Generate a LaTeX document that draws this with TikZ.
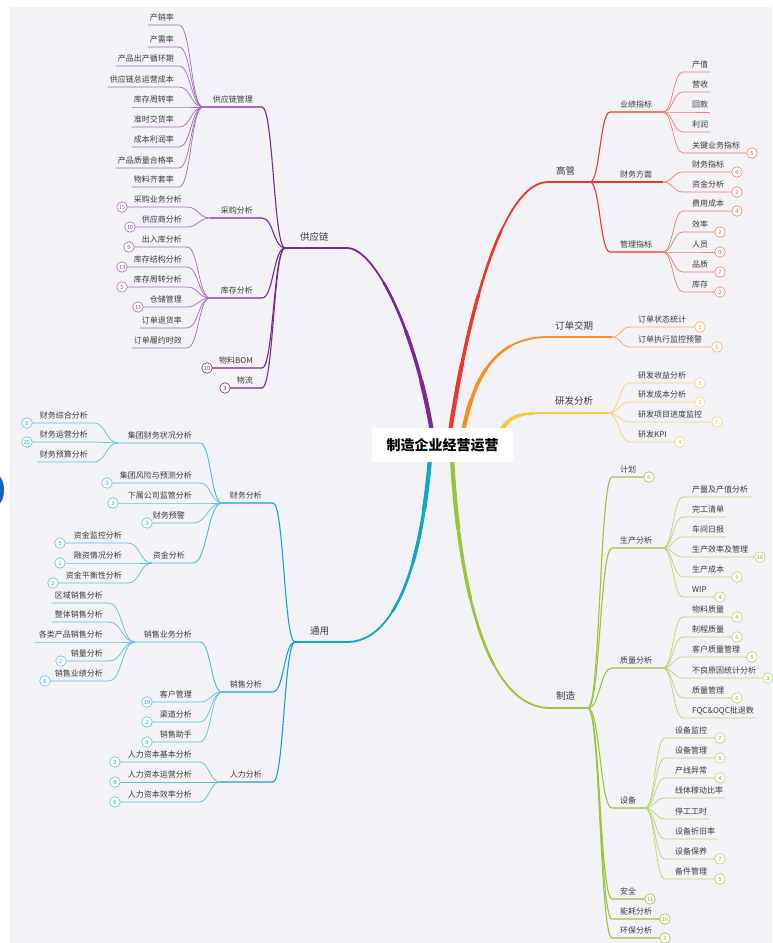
\documentclass[tikz,border=0pt]{standalone}
\usepackage{fontspec}
\setmainfont{Noto Sans CJK SC}
\usetikzlibrary{calc}
\definecolor{bgc}{HTML}{F3F2F7}
\definecolor{txt}{HTML}{3C3C3C}
\definecolor{pM}{HTML}{7A2A8E}
\definecolor{pL}{HTML}{A56DB8}
\definecolor{rM}{HTML}{E8392C}
\definecolor{rL}{HTML}{EE7C74}
\definecolor{oM}{HTML}{F29224}
\definecolor{oL}{HTML}{F4B267}
\definecolor{yM}{HTML}{F6C640}
\definecolor{yL}{HTML}{F5D27A}
\definecolor{gM}{HTML}{9DC33A}
\definecolor{gL}{HTML}{B9D46F}
\definecolor{cM}{HTML}{14A6C6}
\definecolor{cL}{HTML}{5CC3D8}
\definecolor{edgeblue}{HTML}{1565C0}

\newcommand\setJ[3]{\coordinate (#1) at (#2,#3);\def\jn{#1}\def\jx{#2}\def\jy{#3}}
\def\extd{4}
% left item: name style y xl(badge/ul left, empty=text) xr(text right) text badge
\newcommand\leafL[7]{%
  \node[lf,anchor=base east] (#1) at (#5,#3-4.5) {#6};
  \coordinate (#1r) at (#5+\extd,#3);
  \ifx\relax#4\relax\coordinate (#1l) at (#1.west |- #1r);\else\coordinate (#1l) at (#4,#3);\fi
  \draw[#2] (#1l) -- (#1r) .. controls +({(\jx-#5-\extd)/2},0) and +({(#5+\extd-\jx)/2},0) .. (\jn);
  \ifx\relax#7\relax\else\node[#2,bdg] (#1b) at (#1l) {#7};\fi}
% right item: name style y xl(ul left) xr(ul right/badge, empty=text) text badge
\newcommand\leafR[7]{%
  \coordinate (#1l) at (#4,#3);
  \node[lf,anchor=base west] (#1) at (#4+\extd,#3-4.5) {#6};
  \ifx\relax#5\relax\coordinate (#1r) at (#1.east |- #1l);\else\coordinate (#1r) at (#5,#3);\fi
  \draw[#2] (\jn) .. controls +({(#4-\jx)/2},0) and +({(\jx-#4)/2},0) .. (#1l) -- (#1r);
  \ifx\relax#7\relax\else\node[#2,bdg] (#1b) at (#1r) {#7};\fi}
\newcommand\taper[5]{%
  \draw[#1,line width=2.6pt,dash pattern=on #3pt off 2000pt] #2;
  \draw[#1,line width=3.4pt,dash pattern=on #4pt off 2000pt] #2;
  \draw[#1,line width=4.2pt,dash pattern=on #5pt off 2000pt] #2;}

\begin{document}
\begin{tikzpicture}[x=1pt,y=-1pt,
  lf/.style={font=\fontsize{8}{9}\selectfont,text=txt,inner xsep=2pt,inner ysep=1pt},
  lone/.style={font=\fontsize{9.5}{11}\selectfont,text=txt,inner sep=1pt},
  bdg/.style={circle,fill=white,inner sep=0pt,minimum size=10.5pt,font=\fontsize{5.8}{6}\selectfont,line width=0.6pt},
  mP/.style={draw=pM,text=pM,line width=1.1pt},
  lP/.style={draw=pL,text=pM!80!white,line width=0.7pt},
  mR/.style={draw=rM,text=rM,line width=1.1pt},
  lR/.style={draw=rL,text=rM!85!white,line width=0.7pt},
  lO/.style={draw=oL,text=oM,line width=0.8pt},
  lY/.style={draw=yL,text=yM!90!black,line width=0.8pt},
  mG/.style={draw=gM,text=gM!90!black,line width=1.1pt},
  lG/.style={draw=gL,text=gM!90!black,line width=0.7pt},
  mC/.style={draw=cM,text=cM,line width=1.1pt},
  mCC/.style={draw=cM!75!white,text=cM,line width=0.9pt},
  lC/.style={draw=cL,text=cM,line width=0.7pt},
  rootbox/.style={fill=white,rounded corners=3pt,minimum width=141pt,minimum height=34pt,
     font=\fontsize{14}{16}\selectfont\bfseries,text=black}
]
\useasboundingbox (0,0) rectangle (772,943);
\fill[white] (0,0) rectangle (772,943);
\fill[bgc] (10,7) rectangle (772,943);
\fill[edgeblue] (-2,490) ellipse (6 and 14);

% ---------- main branches ----------
\setJ{jsc}{285}{248}
\coordinate (rP) at (432,432); \coordinate (scE) at (347,248);
\draw[pM,line width=1.8pt] (rP) .. controls (415,330) and (375,248) .. (scE) -- (jsc);
\taper{pM}{(rP) .. controls (415,330) and (375,248) .. (scE)}{158}{105}{52}
\node[lone,anchor=base west] (scT) at (299,240) {供应链};

\setJ{jgg}{590}{182}
\coordinate (rR) at (450,432); \coordinate (ggE) at (548,182);
\draw[rM,line width=1.8pt] (rR) .. controls (470,300) and (505,182) .. (ggE) -- (jgg);
\taper{rM}{(rR) .. controls (470,300) and (505,182) .. (ggE)}{209}{140}{70}
\node[lone,anchor=base west] (ggT) at (555,174) {高管};

\setJ{jdd}{612}{337}
\coordinate (rO) at (463,432); \coordinate (ddE) at (548,337);
\draw[oM,line width=1.8pt] (rO) .. controls (475,370) and (500,337) .. (ddE) -- (jdd);
\taper{oM}{(rO) .. controls (475,370) and (500,337) .. (ddE)}{102}{68}{34}
\node[lone,anchor=base west] (ddT) at (554,329) {订单交期};

\setJ{jyf}{608}{413}
\coordinate (rY) at (500,432); \coordinate (yfE) at (548,413);
\draw[yM,line width=1.8pt] (rY) .. controls (510,415) and (520,413) .. (yfE) -- (jyf);
\taper{yM}{(rY) .. controls (510,415) and (520,413) .. (yfE)}{40}{27}{14}
\node[lone,anchor=base west] (yfT) at (554,404) {研发分析};

\setJ{jzz}{588}{708}
\coordinate (rG) at (452,458); \coordinate (zzE) at (550,708);
\draw[gM,line width=1.8pt] (rG) .. controls (460,600) and (490,708) .. (zzE) -- (jzz);
\taper{gM}{(rG) .. controls (460,600) and (490,708) .. (zzE)}{213}{142}{71}
\node[lone,anchor=base west] (zzT) at (555,699) {制造};

\setJ{jty}{295}{642}
\coordinate (rC) at (430,458); \coordinate (tyE) at (347,642);
\draw[cM,line width=1.8pt] (rC) .. controls (420,580) and (390,642) .. (tyE) -- (jty);
\taper{cM}{(rC) .. controls (420,580) and (390,642) .. (tyE)}{160}{106}{53}
\node[lone,anchor=base west] (tyT) at (309,634) {通用};

\node[rootbox] (root) at (442.5,445) {制造企业经营运营};

% ---------- 供应链 ----------
\setJ{jsc}{285}{248}
\def\extd{7}
\leafL{scm}{mP}{107}{203}{255}{供应链管理}{}
\leafL{cgf}{mP}{218}{210}{255}{采购分析}{}
\leafL{kcf}{mP}{298}{210}{255}{库存分析}{}
\leafL{bom}{mP}{368}{207}{255}{物料BOM}{10}
\leafL{wul}{mP}{388}{225}{255}{物流}{3}
\def\extd{3}
\setJ{jscm}{203}{107}
\leafL{p1}{lP}{25}{}{176}{产销率}{}
\leafL{p2}{lP}{47}{}{176}{产需率}{}
\leafL{p3}{lP}{66}{}{176}{产品出产循环期}{}
\leafL{p4}{lP}{87}{}{176}{供应链总运营成本}{}
\leafL{p5}{lP}{107}{}{176}{库存周转率}{}
\leafL{p6}{lP}{127}{}{176}{准时交货率}{}
\leafL{p7}{lP}{147}{}{176}{成本利润率}{}
\leafL{p8}{lP}{168}{}{176}{产品质量合格率}{}
\leafL{p9}{lP}{187}{}{176}{物料齐套率}{}
\setJ{jcg}{210}{218}
\leafL{p10}{lP}{207}{122}{184}{采购业务分析}{15}
\leafL{p11}{lP}{227}{130}{184}{供应商分析}{10}
\setJ{jkc}{210}{298}
\leafL{p12}{lP}{247}{129}{184}{出入库分析}{9}
\leafL{p13}{lP}{267}{122}{184}{库存结构分析}{13}
\leafL{p14}{lP}{287}{122}{184}{库存周转分析}{5}
\leafL{p15}{lP}{307}{138}{184}{仓储管理}{11}
\leafL{p16}{lP}{328}{}{184}{订单退货率}{}
\leafL{p17}{lP}{348}{}{184}{订单履约时效}{}

% ---------- 通用 ----------
\setJ{jty}{295}{642}
\def\extd{9}
\leafL{cw}{mC}{503}{222}{264}{财务分析}{}
\leafL{xs}{mC}{692}{222}{264}{销售分析}{}
\leafL{rl}{mC}{782}{220}{264}{人力分析}{}
\setJ{jcw}{222}{503}
\def\extd{6}
\leafL{c1}{mCC}{443}{118}{194}{集团财务状况分析}{}
\leafL{c2}{lC}{483}{107}{194}{集团风险与预测分析}{3}
\leafL{c3}{lC}{503}{113}{194}{下属公司监管分析}{3}
\leafL{c4}{lC}{523}{147}{187}{财务预警}{3}
\leafL{c5}{mCC}{563}{152}{187}{资金分析}{}
\def\extd{4}
\setJ{jc1}{118}{443}
\leafL{c11}{lC}{423}{27}{90}{财务综合分析}{6}
\leafL{c12}{lC}{442}{27}{90}{财务运营分析}{25}
\leafL{c13}{lC}{462}{37}{90}{财务预算分析}{}
\setJ{jc5}{152}{563}
\leafL{c51}{lC}{543}{60}{124}{资金监控分析}{5}
\leafL{c52}{lC}{563}{60}{124}{融资情况分析}{1}
\leafL{c53}{lC}{583}{53}{124}{资金平衡性分析}{2}
\setJ{jxs}{222}{692}
\def\extd{6}
\leafL{s1}{mCC}{642}{135}{194}{销售业务分析}{}
\leafL{s2}{lC}{702}{147}{194}{客户管理}{19}
\leafL{s3}{lC}{722}{147}{194}{渠道分析}{2}
\leafL{s4}{lC}{742}{147}{194}{销售助手}{9}
\setJ{js1}{135}{642}
\def\extd{4}
\leafL{s11}{lC}{603}{52}{105}{区域销售分析}{}
\leafL{s12}{lC}{622}{52}{105}{整体销售分析}{}
\leafL{s13}{lC}{642}{35}{105}{各类产品销售分析}{}
\leafL{s14}{lC}{661}{61}{105}{销量分析}{2}
\leafL{s15}{lC}{681}{45}{105}{销售业绩分析}{6}
\setJ{jrl}{220}{782}
\def\extd{5}
\leafL{r1}{lC}{762}{115}{194}{人力资本基本分析}{3}
\leafL{r2}{lC}{782}{115}{194}{人力资本运营分析}{8}
\leafL{r3}{lC}{802}{115}{194}{人力资本效率分析}{6}

% ---------- 高管 ----------
\setJ{jgg}{590}{182}
\def\extd{8}
\leafR{g1}{mR}{112}{610}{663}{业绩指标}{}
\leafR{g2}{mR}{182}{610}{663}{财务方面}{}
\leafR{g3}{mR}{252}{610}{663}{管理指标}{}
\def\extd{7}
\setJ{jg1}{663}{112}
\leafR{g11}{lR}{72}{683}{}{产值}{}
\leafR{g12}{lR}{92}{683}{}{营收}{}
\leafR{g13}{lR}{112}{683}{}{回款}{}
\leafR{g14}{lR}{132}{683}{}{利润}{}
\leafR{g15}{lR}{153}{683}{752}{关键业务指标}{5}
\setJ{jg2}{663}{182}
\leafR{g21}{lR}{172}{683}{737}{财务指标}{6}
\leafR{g22}{lR}{192}{683}{737}{资金分析}{2}
\setJ{jg3}{663}{252}
\leafR{g31}{lR}{211}{683}{737}{费用成本}{4}
\leafR{g32}{lR}{232}{683}{720}{效率}{2}
\leafR{g33}{lR}{252}{683}{720}{人员}{9}
\leafR{g34}{lR}{272}{683}{720}{品质}{7}
\leafR{g35}{lR}{292}{683}{720}{库存}{2}

% ---------- 订单交期 / 研发分析 ----------
\def\extd{6}
\setJ{jdd}{612}{337}
\leafR{o1}{lO}{327}{630}{700}{订单状态统计}{3}
\leafR{o2}{lO}{347}{630}{717}{订单执行监控预警}{5}
\setJ{jyf}{608}{413}
\leafR{y1}{lY}{383}{630}{700}{研发收益分析}{3}
\leafR{y2}{lY}{402}{630}{700}{研发成本分析}{2}
\leafR{y3}{lY}{422}{630}{717}{研发项目进度监控}{7}
\leafR{y4}{lY}{442}{630}{680}{研发KPI}{4}

% ---------- 制造 ----------
\setJ{jzz}{588}{708}
\def\extd{6}
\leafR{z1}{mG}{477}{612}{649}{计划}{6}
\leafR{z2}{mG}{548}{612}{663}{生产分析}{}
\leafR{z3}{mG}{668}{612}{663}{质量分析}{}
\leafR{z4}{mG}{808}{612}{645}{设备}{}
\leafR{z5}{mG}{899}{612}{650}{安全}{11}
\leafR{z6}{mG}{919}{612}{665}{能耗分析}{19}
\leafR{z7}{mG}{938}{612}{665}{环保分析}{3}
\def\extd{7}
\setJ{jz2}{663}{548}
\leafR{z21}{lG}{497}{683}{752}{产量及产值分析}{}
\leafR{z22}{lG}{517}{683}{}{完工清单}{}
\leafR{z23}{lG}{537}{683}{}{车间日报}{}
\leafR{z24}{lG}{557}{683}{760}{生产效率及管理}{10}
\leafR{z25}{lG}{577}{683}{737}{生产成本}{5}
\leafR{z26}{lG}{597}{683}{720}{WIP}{4}
\setJ{jz3}{663}{668}
\leafR{z31}{lG}{617}{683}{737}{物料质量}{4}
\leafR{z32}{lG}{637}{683}{737}{制程质量}{6}
\leafR{z33}{lG}{657}{683}{752}{客户质量管理}{5}
\leafR{z34}{lG}{678}{683}{768}{不良原因统计分析}{3}
\leafR{z35}{lG}{698}{683}{737}{质量管理}{6}
\leafR{z36}{lG}{718}{683}{}{FQC\&OQC批退数}{}
\def\extd{8}
\setJ{jz4}{645}{808}
\leafR{z41}{lG}{738}{665}{720}{设备监控}{7}
\leafR{z42}{lG}{758}{665}{720}{设备管理}{6}
\leafR{z43}{lG}{778}{665}{720}{产线异常}{4}
\leafR{z44}{lG}{798}{665}{}{线体稼动比率}{}
\leafR{z45}{lG}{819}{665}{}{停工工时}{}
\leafR{z46}{lG}{839}{665}{}{设备折旧率}{}
\leafR{z47}{lG}{859}{665}{720}{设备保养}{7}
\leafR{z48}{lG}{879}{665}{720}{备件管理}{5}
\end{tikzpicture}
\end{document}
